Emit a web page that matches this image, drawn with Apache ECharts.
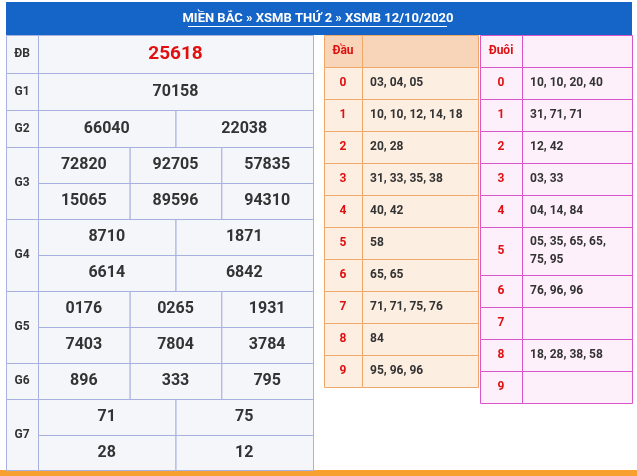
<!DOCTYPE html>
<html><head><meta charset="utf-8">
<script src="https://cdn.jsdelivr.net/npm/echarts@6/dist/echarts.min.js"></script>
<style>html,body{margin:0;padding:0;background:#fff}#c{width:637px;height:476px}</style>
</head><body><div id="c"></div>
<script>
const title = "MIỀN BẮC » XSMB THỨ 2 » XSMB 12/10/2020";
const prizeLabels = ["ĐB","G1","G2","G3","G4","G5","G6","G7"];
const prizeNumbers = [
  [["25618"]],
  [["70158"]],
  [["66040","22038"]],
  [["72820","92705","57835"],["15065","89596","94310"]],
  [["8710","1871"],["6614","6842"]],
  [["0176","0265","1931"],["7403","7804","3784"]],
  [["896","333","795"]],
  [["71","75"],["28","12"]]
];
const dauDigits = ["0","1","2","3","4","5","6","7","8","9"];
const dauValues = ["03, 04, 05","10, 10, 12, 14, 18","20, 28","31, 33, 35, 38","40, 42","58","65, 65","71, 71, 75, 76","84","95, 96, 96"];
const duoiValues = ["10, 10, 20, 40","31, 71, 71","12, 42","03, 33","04, 14, 84","05, 35, 65, 65,\n75, 95","76, 96, 96","","18, 28, 38, 58",""];

const cells = [];
const F = "Roboto, 'Noto Sans', sans-serif";
// left table
const L = {x0:6, lab:38, x1:313, y0:35, rowH:[38,37,37,36,36,36,36,36,36,36,36,36]};
let y = 35;
const subH = [[38],[37],[37],[36,36],[36,36],[36,36],[36],[36,35]];
prizeLabels.forEach((lab,i)=>{
  const hs = subH[i]; const tot = hs.reduce((a,b)=>a+b,0);
  cells.push({x:L.x0,y:y,w:L.lab-L.x0,h:tot,fill:'#f5f6fa',stroke:'#a8b0e0',text:lab,color:'#333',size:12,weight:'bold'});
  let yy=y;
  prizeNumbers[i].forEach((row,r)=>{
    const n=row.length, w=(L.x1-L.lab)/n;
    row.forEach((v,k)=>{
      const isDB=i===0;
      cells.push({x:L.lab+k*w,y:yy,w:w,h:hs[r],fill:'#f5f6fa',stroke:'#a8b0e0',text:v,color:isDB?'#e01010':'#333',size:isDB?19:16,weight:'bold'});
    });
    yy+=hs[r];
  });
  y+=tot;
});
// Đầu table
cells.push({x:324,y:35,w:38,h:32,fill:'#f8d5b8',stroke:'#f0a868',text:'Đầu',color:'#e01010',size:12,weight:'bold'});
cells.push({x:362,y:35,w:116,h:32,fill:'#f8d5b8',stroke:'#f0a868',text:'',color:'#333',size:12});
dauDigits.forEach((d,i)=>{
  const yy=67+i*32;
  cells.push({x:324,y:yy,w:38,h:32,fill:'#fdeee2',stroke:'#f0a868',text:d,color:'#e01010',size:12,weight:'bold'});
  cells.push({x:362,y:yy,w:116,h:32,fill:'#fdeee2',stroke:'#f0a868',text:dauValues[i],color:'#333',size:12,weight:'bold',left:true});
});
// Đuôi table
cells.push({x:480,y:35,w:42,h:32,fill:'#fdf0fb',stroke:'#d855cc',text:'Đuôi',color:'#e01010',size:12,weight:'bold'});
cells.push({x:522,y:35,w:110,h:32,fill:'#fdf0fb',stroke:'#d855cc',text:'',color:'#333',size:12});
let yd=67;
dauDigits.forEach((d,i)=>{
  const h = duoiValues[i].includes('\n')?48:32;
  cells.push({x:480,y:yd,w:42,h:h,fill:'#fdf0fb',stroke:'#d855cc',text:d,color:'#e01010',size:12,weight:'bold'});
  cells.push({x:522,y:yd,w:110,h:h,fill:'#fdf0fb',stroke:'#d855cc',text:duoiValues[i],color:'#333',size:12,weight:'bold',left:true});
  yd+=h;
});

const chart = echarts.init(document.getElementById('c'));
chart.setOption({
  animation:false,
  grid:{left:0,right:0,top:0,bottom:0},
  xAxis:{type:'value',min:0,max:637,show:false},
  yAxis:{type:'value',min:0,max:476,inverse:true,show:false},
  graphic:[
    {type:'rect',shape:{x:6,y:2,width:626,height:33},style:{fill:'#1565c8'}},
    {type:'rect',shape:{x:0,y:470,width:637,height:6},style:{fill:'#f7a030'}},
    {type:'rect',shape:{x:311,y:35,width:3,height:435},style:{fill:'#a0a8e0'}},
    {type:'text',x:318,y:19,style:{text:title,fill:'#fff',font:'bold 13px '+F,textAlign:'center',textVerticalAlign:'middle'}},
    {type:'rect',shape:{x:188,y:26,width:259,height:1},style:{fill:'#fff'}}
  ],
  series:[{
    type:'custom',
    coordinateSystem:'cartesian2d',
    data:cells.map((c,i)=>[c.x,c.y,i]),
    renderItem:(params,api)=>{
      const c=cells[api.value(2)];
      const p0=api.coord([c.x,c.y]), p1=api.coord([c.x+c.w,c.y+c.h]);
      const w=p1[0]-p0[0], h=p1[1]-p0[1];
      return {type:'group',children:[
        {type:'rect',shape:{x:p0[0]+0.5,y:p0[1]+0.5,width:w,height:h},style:{fill:c.fill,stroke:c.stroke,lineWidth:1}},
        {type:'text',x:c.left?p0[0]+8:p0[0]+w/2,y:p0[1]+h/2,style:{text:c.text,fill:c.color,font:(c.weight||'normal')+' '+c.size+'px '+F,textAlign:c.left?'left':'center',textVerticalAlign:'middle',lineHeight:18}}
      ]};
    }
  }]
});
</script></body></html>
